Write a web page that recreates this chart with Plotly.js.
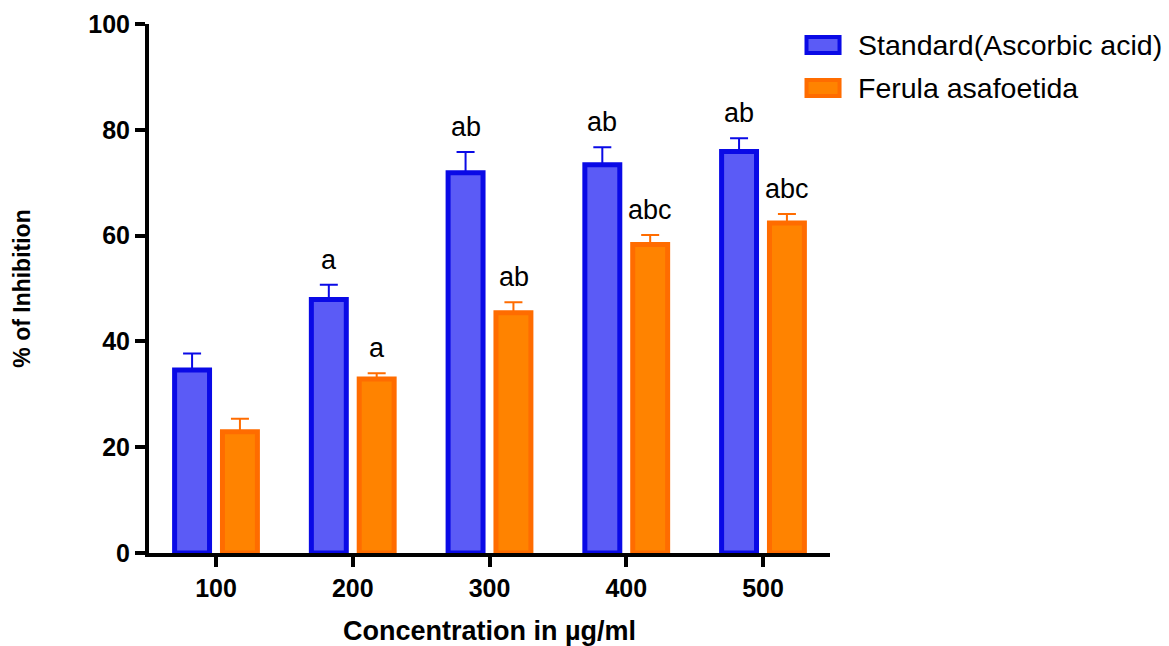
<!DOCTYPE html>
<html>
<head>
<meta charset="utf-8">
<script src="https://cdn.plot.ly/plotly-3.0.1.min.js"></script>
<style>html,body{margin:0;padding:0;background:#fff}#chart{width:1169px;height:646px}</style>
</head>
<body>
<div id="chart"></div>
<script>
const categories = ["100", "200", "300", "400", "500"];
const seriesNames = ["Standard(Ascorbic acid)", "Ferula asafoetida"];
const standardValues = [34.6, 47.9, 71.9, 73.4, 75.9];
const standardErrors = [3.1, 2.8, 3.9, 3.3, 2.5];
const ferulaValues = [22.9, 32.9, 45.4, 58.3, 62.4];
const ferulaErrors = [2.5, 1.1, 2.0, 1.8, 1.7];
const standardLetters = ["", "a", "ab", "ab", "ab"];
const ferulaLetters = ["", "a", "ab", "abc", "abc"];
const yTicks = [0, 20, 40, 60, 80, 100];

const FONT = "Liberation Sans, Arial, sans-serif";
const blueFill = "#5b5bf6", blueLine = "#0a0ae6";
const orangeFill = "#ff8300", orangeLine = "#ff6c00";

const traces = [
  {
    type: "bar", name: seriesNames[0], x: categories, y: standardValues,
    marker: {color: blueFill, line: {color: blueLine, width: 5}},
    error_y: {type: "data", array: standardErrors, arrayminus: standardErrors.map(() => 0), symmetric: false,
              color: blueLine, thickness: 2, width: 9},
    showlegend: false, hoverinfo: "x+y"
  },
  {
    type: "bar", name: seriesNames[1], x: categories, y: ferulaValues,
    marker: {color: orangeFill, line: {color: orangeLine, width: 5}},
    error_y: {type: "data", array: ferulaErrors, arrayminus: ferulaErrors.map(() => 0), symmetric: false,
              color: orangeLine, thickness: 2, width: 9},
    showlegend: false, hoverinfo: "x+y"
  }
];

const annotations = [];
categories.forEach((c, i) => {
  if (standardLetters[i]) annotations.push({x: i, y: standardValues[i] + standardErrors[i], xref: "x", yref: "y",
    text: standardLetters[i], showarrow: false, xshift: -24, yshift: 8, yanchor: "bottom",
    font: {family: FONT, size: 27, color: "#000"}});
  if (ferulaLetters[i]) annotations.push({x: i, y: ferulaValues[i] + ferulaErrors[i], xref: "x", yref: "y",
    text: ferulaLetters[i], showarrow: false, xshift: 24, yshift: 8, yanchor: "bottom",
    font: {family: FONT, size: 27, color: "#000"}});
});

// legend (drawn as shapes + text for swatch fidelity)
const legendItems = [
  {name: seriesNames[0], fill: blueFill, line: blueLine, y0: 0.9452, y1: 0.9754, ty: 0.9603},
  {name: seriesNames[1], fill: orangeFill, line: orangeLine, y0: 0.8639, y1: 0.8941, ty: 0.879}
];
const shapes = [];
legendItems.forEach(it => {
  shapes.push({type: "rect", xref: "paper", yref: "paper", x0: 0.9655, x1: 1.0140, y0: it.y0, y1: it.y1,
    fillcolor: it.fill, line: {color: it.line, width: 4}});
  annotations.push({xref: "paper", yref: "paper", x: 1.038, y: it.ty, xanchor: "left", yanchor: "middle",
    text: it.name, showarrow: false, font: {family: FONT, size: 28.5, color: "#000"}});
});

const layout = {
  width: 1169, height: 646,
  margin: {l: 149, r: 339, t: 24, b: 93, pad: 0},
  paper_bgcolor: "#fff", plot_bgcolor: "#fff",
  barmode: "group", bargap: 0.3, bargroupgap: 0.27,
  showlegend: false,
  font: {family: FONT, color: "#000"},
  xaxis: {
    type: "category", range: [-0.49, 4.49],
    showline: true, linecolor: "#000", linewidth: 4,
    ticks: "outside", ticklen: 10, tickwidth: 4, tickcolor: "#000",
    tickfont: {family: FONT, size: 25, color: "#000", weight: "bold"},
    showgrid: false, zeroline: false,
    title: {text: "<b>Concentration in µg/ml</b>", font: {family: FONT, size: 27, color: "#000"}, standoff: 21}
  },
  yaxis: {
    range: [0, 100], tickvals: yTicks,
    showline: true, linecolor: "#000", linewidth: 4,
    ticks: "outside", ticklen: 10, tickwidth: 4, tickcolor: "#000",
    tickfont: {family: FONT, size: 25, color: "#000", weight: "bold"},
    showgrid: false, zeroline: false,
    title: {text: "<b>% of Inhibition</b>", font: {family: FONT, size: 23, color: "#000"}, standoff: 52}
  },
  annotations: annotations,
  shapes: shapes
};

Plotly.newPlot("chart", traces, layout, {displayModeBar: false, responsive: false});
</script>
</body>
</html>
